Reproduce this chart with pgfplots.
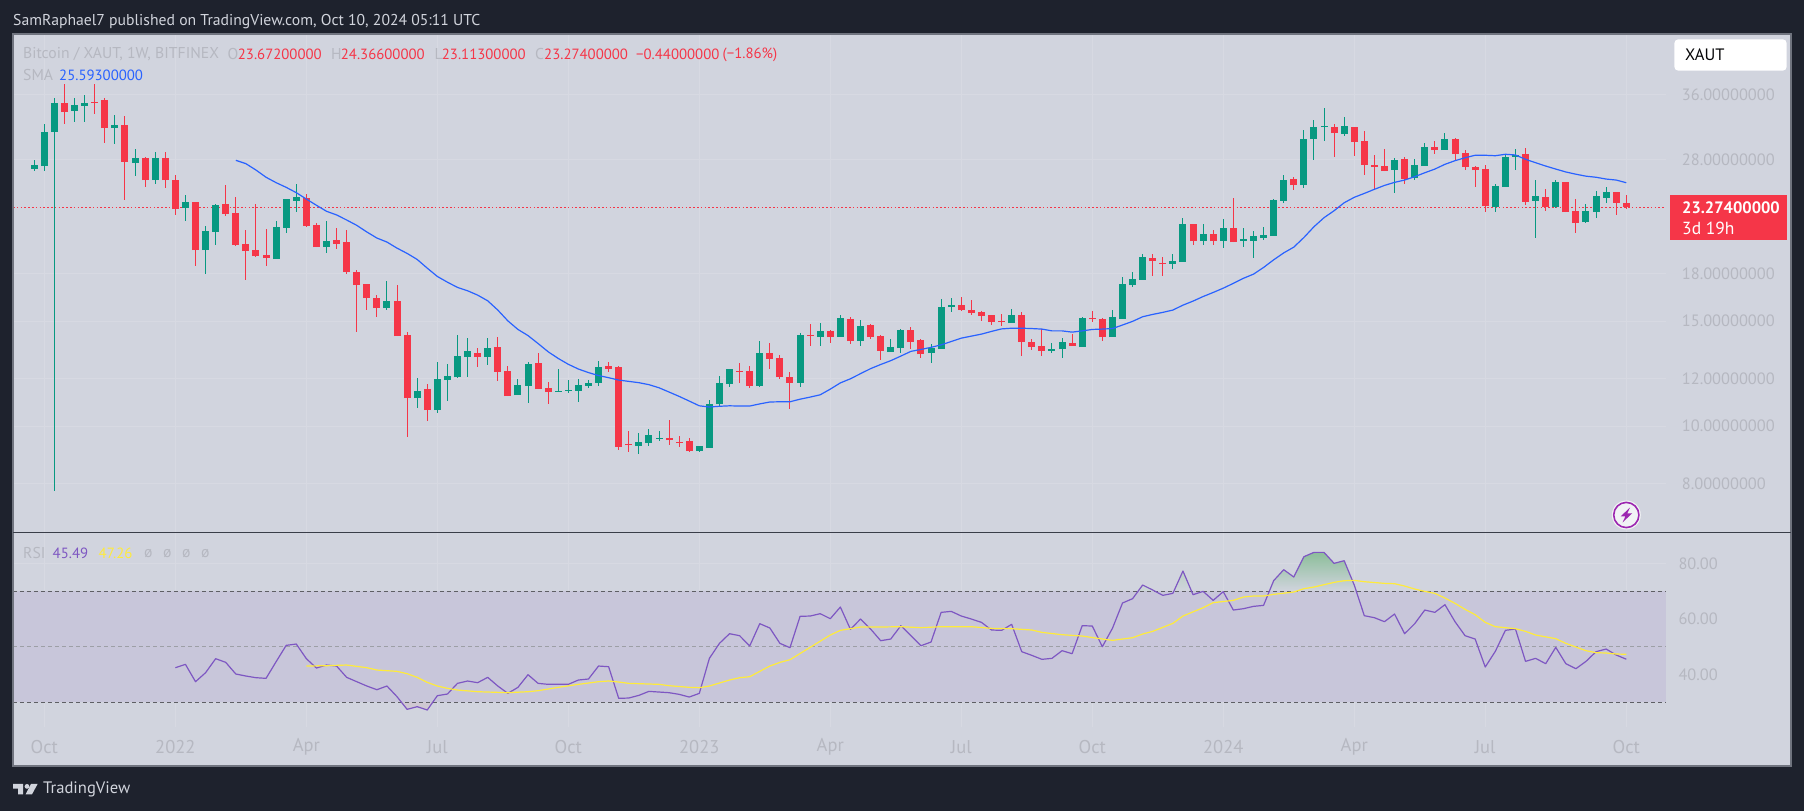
\documentclass[border=0pt]{standalone}
\usepackage{fontspec}
\setmainfont{PT Sans}
\usepackage{pgfplots}
\usepackage{pgfplotstable}
\pgfplotsset{compat=1.18}
\definecolor{bgdark}{HTML}{1E222D}
\definecolor{pane}{HTML}{D1D4DE}
\definecolor{band}{HTML}{C8C6DA}
\definecolor{gridc}{HTML}{D7D9E2}
\definecolor{borderc}{HTML}{70747F}
\definecolor{faint}{HTML}{B6B8C1}
\definecolor{upc}{HTML}{089981}
\definecolor{dnc}{HTML}{F53648}
\definecolor{smac}{HTML}{2962FF}
\definecolor{rsic}{HTML}{7E57C2}
\definecolor{yelc}{HTML}{FFEB3B}
\definecolor{headc}{HTML}{D1D4DC}
\definecolor{boltc}{HTML}{9C27B0}
\definecolor{obtop}{HTML}{8CBE9A}
\definecolor{obmid}{HTML}{BBD1C4}
\definecolor{oblow}{HTML}{CBD5D6}
\definecolor{ostint}{HTML}{CFC8D2}

\pgfplotstableread{
i o h l c
0 26.98 27.94 26.78 27.41
1 27.30 32.11 26.78 31.13
2 31.13 35.51 7.78 34.83
4 33.76 35.51 32.36 34.56
5 34.43 35.92 32.36 34.83
8 31.62 33.25 29.72 31.99
10 27.62 29.15 26.26 28.16
12 25.86 28.82 25.47 28.16
15 23.21 24.41 22.08 23.76
17 19.73 21.65 17.98 21.24
18 21.16 23.58 20.12 23.49
24 19.06 22.08 19.06 21.57
25 21.49 24.03 21.08 24.03
26 23.85 25.47 22.85 24.22
29 19.96 22.08 19.50 20.43
35 15.77 17.50 15.65 16.20
38 11.14 12.03 10.71 11.45
40 10.63 12.80 10.51 11.98
41 11.94 12.70 11.01 12.12
42 12.08 14.20 12.03 13.10
43 13.05 14.04 12.08 13.36
45 13.05 14.04 12.66 13.51
48 11.27 11.98 11.27 11.72
49 11.67 12.80 10.92 12.70
52 11.40 12.46 11.40 11.45
53 11.45 11.94 11.36 11.49
54 11.45 11.98 10.97 11.72
55 11.67 11.94 11.58 11.81
56 11.81 12.85 11.67 12.56
60 9.25 9.73 8.97 9.40
61 9.36 9.88 9.25 9.65
62 9.51 9.80 9.43 9.54
66 9.07 9.25 9.04 9.25
67 9.18 11.05 9.18 10.88
68 10.88 12.12 10.80 11.81
69 11.76 12.46 11.62 12.46
72 11.67 13.88 11.62 13.25
76 11.81 14.31 11.62 14.20
78 14.09 14.88 13.62 14.43
80 14.09 15.35 14.09 15.17
82 13.88 15.05 13.62 14.71
85 13.30 13.98 13.30 13.56
86 13.51 14.54 13.25 14.48
89 13.25 13.72 12.75 13.51
90 13.46 16.32 13.46 15.83
91 15.83 16.39 15.53 15.95
97 14.88 15.71 14.88 15.35
101 13.36 13.77 13.25 13.46
102 13.46 14.04 13.00 13.82
104 13.56 15.23 13.56 15.17
107 14.09 15.65 14.09 15.23
108 15.11 17.77 15.11 17.30
109 17.23 18.12 17.10 17.64
110 17.57 19.43 17.57 19.21
113 18.70 19.43 18.33 18.91
114 18.84 22.33 18.84 21.82
116 20.43 21.82 20.12 21.00
118 20.43 22.24 19.88 21.49
120 20.43 21.49 19.96 20.59
121 20.43 21.24 19.13 20.83
122 20.67 21.57 20.51 20.91
123 20.83 24.03 20.83 23.94
124 23.85 26.37 23.67 25.86
126 25.37 31.37 25.07 30.30
127 30.30 32.61 27.94 31.74
128 31.74 34.16 30.07 31.86
130 30.89 32.99 30.65 31.86
135 26.88 28.16 24.59 27.94
137 26.06 28.05 25.86 27.41
138 27.30 29.84 27.30 29.38
140 29.04 31.01 29.04 30.30
145 23.30 25.47 22.85 25.26
146 25.16 28.49 25.16 28.27
147 28.27 29.15 26.88 28.49
149 23.85 25.86 20.67 24.32
151 23.30 25.86 23.21 25.66
154 21.99 23.58 21.90 22.94
155 22.85 24.78 22.33 24.32
156 24.13 25.16 23.67 24.69
}\updata

\pgfplotstableread{
i o h l c
3 34.83 37.48 32.11 33.63
6 34.96 37.48 33.38 34.83
7 35.23 35.51 29.84 31.62
9 31.99 33.12 23.94 27.73
11 28.16 28.27 25.16 25.86
13 28.16 28.82 25.07 25.86
14 25.86 26.37 22.60 23.12
16 23.76 23.76 18.55 19.73
19 23.58 25.37 22.51 22.68
20 22.77 24.22 20.04 20.12
21 20.20 21.32 17.57 19.66
22 19.73 23.58 19.21 19.28
23 19.35 21.40 18.55 19.13
27 24.13 24.50 21.57 21.65
28 21.74 21.90 19.96 19.96
30 20.51 21.49 19.81 20.20
31 20.35 21.32 17.98 18.12
32 18.12 18.26 14.37 17.23
33 17.30 17.30 15.65 16.39
34 16.39 16.58 15.23 15.77
36 16.20 17.23 14.15 14.15
37 14.20 14.37 9.58 11.14
39 11.53 11.76 10.19 10.63
44 13.25 13.51 12.56 13.05
46 13.56 14.09 11.90 12.32
47 12.36 12.61 11.22 11.22
50 12.75 13.25 11.53 11.53
51 11.58 11.85 10.88 11.40
57 12.61 12.80 12.32 12.46
58 12.56 12.61 9.11 9.22
59 9.33 9.80 9.04 9.29
63 9.54 10.23 9.29 9.47
64 9.40 9.62 9.22 9.36
65 9.43 9.54 9.04 9.07
70 12.36 12.75 11.81 12.32
71 12.36 12.61 11.58 11.67
73 13.25 13.77 12.46 12.95
74 13.00 13.15 11.98 12.08
75 12.08 12.32 10.67 11.81
77 14.20 14.82 13.62 14.15
79 14.43 14.48 13.77 14.09
81 15.11 15.23 13.72 13.88
83 14.77 14.82 13.98 14.09
84 14.15 14.20 12.90 13.36
87 14.48 14.65 13.46 13.82
88 13.93 13.98 13.00 13.20
92 15.95 16.45 15.59 15.65
93 15.65 16.26 15.35 15.47
94 15.53 15.59 14.99 15.29
95 15.35 15.35 14.77 14.94
96 14.99 15.41 14.71 14.94
98 15.35 15.53 13.10 13.82
99 13.82 13.98 13.41 13.56
100 13.62 14.54 13.10 13.36
103 13.77 14.26 13.62 13.62
105 15.17 15.59 14.94 15.11
106 15.11 15.17 13.88 14.09
111 19.13 19.43 17.83 18.91
112 18.76 19.21 17.83 18.70
115 21.82 21.82 20.12 20.43
117 21.00 21.32 20.12 20.43
119 21.49 24.13 20.35 20.35
125 25.96 26.16 24.88 25.37
129 31.74 32.11 28.27 31.01
131 31.74 31.74 28.38 29.95
132 30.07 31.25 26.37 27.41
133 27.41 28.49 24.88 27.19
134 27.30 29.15 26.78 26.78
136 28.05 28.27 25.47 25.96
139 29.38 30.07 28.60 29.04
141 30.30 30.42 27.94 28.60
142 28.71 29.04 26.88 27.19
143 27.19 27.30 25.16 26.88
144 26.98 27.41 22.85 23.40
148 28.60 29.27 23.49 23.76
150 24.22 24.97 22.94 23.30
152 25.66 25.66 22.85 22.85
153 22.94 24.03 21.08 21.90
157 24.69 24.69 22.60 23.67
158 23.672 24.366 23.113 23.274
}\dndata

\pgfplotstableread{
i v
20 27.91
21 27.55
22 26.88
23 26.14
24 25.60
25 25.14
26 24.63
27 24.03
28 23.46
29 22.92
30 22.60
31 22.16
32 21.71
33 21.16
34 20.67
35 20.35
36 19.88
37 19.48
38 19.03
39 18.40
40 17.82
41 17.43
42 17.08
43 16.86
44 16.58
45 16.22
46 15.65
47 15.01
48 14.52
49 14.18
50 13.75
51 13.32
52 12.98
53 12.69
54 12.46
55 12.29
56 12.15
57 12.05
58 11.94
59 11.88
60 11.82
61 11.73
62 11.59
63 11.40
64 11.21
65 11.01
66 10.81
67 10.76
68 10.79
69 10.81
70 10.80
71 10.80
72 10.89
73 10.97
74 10.98
75 10.98
76 11.09
77 11.18
78 11.28
79 11.53
80 11.81
81 12.00
82 12.24
83 12.48
84 12.68
85 12.87
86 13.10
87 13.34
88 13.44
89 13.55
90 13.68
91 13.86
92 14.04
93 14.15
94 14.26
95 14.41
96 14.55
97 14.59
98 14.59
99 14.57
100 14.54
101 14.44
102 14.44
103 14.37
104 14.44
105 14.52
106 14.54
107 14.57
108 14.77
109 14.98
110 15.25
111 15.39
112 15.51
113 15.65
114 15.95
115 16.20
116 16.49
117 16.75
118 17.03
119 17.35
120 17.69
121 17.98
122 18.45
123 19.00
124 19.52
125 19.96
126 20.71
127 21.59
128 22.36
129 22.97
130 23.69
131 24.19
132 24.56
133 24.95
134 25.33
135 25.63
136 25.86
137 26.20
138 26.60
139 26.98
140 27.48
141 27.87
142 28.19
143 28.46
144 28.46
145 28.41
146 28.57
147 28.49
148 28.02
149 27.65
150 27.30
151 26.98
152 26.68
153 26.45
154 26.25
155 26.14
156 25.96
157 25.86
158 25.593
}\smadata

\pgfplotstableread{
i r
14 42.43
15 43.63
16 37.39
17 40.63
18 45.68
19 44.35
20 40.15
21 39.43
22 38.83
23 38.59
24 44.59
25 50.48
26 50.96
27 45.68
28 42.31
29 43.39
30 43.03
31 38.95
32 37.39
33 35.83
34 34.50
35 35.83
36 31.98
37 27.42
38 28.38
39 27.18
40 32.34
41 32.94
42 36.79
43 37.63
44 37.03
45 38.95
46 35.83
47 33.18
48 35.35
49 39.91
50 36.79
51 36.43
52 36.43
53 36.43
54 37.99
55 38.35
56 43.03
57 42.79
58 31.38
59 31.50
60 32.46
61 33.90
62 33.66
63 33.42
64 32.82
65 31.86
66 33.18
67 45.80
68 51.20
69 54.68
70 53.96
71 50.24
72 58.29
73 56.73
74 51.20
75 49.64
76 60.93
77 61.05
78 61.89
79 60.09
80 64.29
81 56.25
82 59.97
83 56.37
84 52.16
85 52.76
86 57.57
87 53.96
88 50.36
89 51.68
90 62.37
91 62.73
92 61.05
93 59.97
94 58.77
95 56.01
96 55.89
97 58.05
98 48.20
99 46.88
100 45.44
101 45.80
102 48.56
103 47.48
104 57.57
105 57.45
106 50.00
107 56.61
108 65.74
109 67.30
110 72.22
111 70.42
112 68.50
113 69.22
114 77.27
115 68.74
116 69.94
117 66.70
118 69.82
119 63.21
120 63.69
121 64.53
122 64.89
123 73.78
124 77.75
125 75.11
126 82.43
127 83.99
128 83.99
129 80.03
130 80.99
131 72.22
132 61.17
133 60.45
134 59.01
135 61.77
136 54.68
137 58.29
138 63.21
139 62.37
140 65.14
141 59.01
142 53.96
143 52.76
144 42.67
145 48.32
146 55.89
147 56.37
148 44.71
149 45.80
150 43.87
151 49.76
152 43.87
153 42.07
154 44.71
155 48.20
156 49.16
157 47.00
158 45.49
}\rsidata

\pgfplotstableread{
i m
27 43.03
29 43.15
31 43.39
33 42.43
34 41.59
36 41.11
37 40.27
38 38.95
39 37.15
40 35.83
41 34.99
42 34.38
44 33.78
46 33.54
47 33.42
49 33.78
50 34.14
52 35.35
54 36.43
56 37.39
57 37.63
58 37.27
59 36.79
61 36.55
62 36.43
63 35.95
65 35.35
66 35.23
67 35.83
69 37.99
70 38.83
71 39.19
73 43.03
74 44.35
75 45.32
77 49.76
79 54.20
80 55.89
82 57.09
84 57.09
86 57.21
88 56.85
90 57.21
93 57.21
95 56.61
97 56.49
99 56.01
100 55.17
102 54.32
104 53.84
106 52.76
107 52.28
109 53.24
110 54.56
111 55.53
113 58.41
114 61.05
116 64.05
117 65.86
119 66.70
120 67.90
121 68.26
122 68.26
123 68.86
125 69.70
126 70.90
127 71.50
129 73.18
130 73.78
131 73.90
132 73.42
134 72.82
135 72.70
136 71.86
137 70.78
138 69.94
139 69.22
140 67.54
141 65.62
142 63.45
143 61.53
144 58.77
145 57.21
147 56.49
148 55.53
149 54.20
151 52.88
152 51.20
153 49.88
154 48.56
155 47.84
156 47.72
157 47.36
158 47.26
}\rsimadata

\pgfplotsset{
  tvaxis/.style={
    scale only axis, width=1653pt,
    xmin=-2.114, xmax=161.94,
    axis line style={draw=none},
    major tick length=0pt, minor tick length=0pt,
    xtick={1,14,27,40,53,66,79,92,105,118,131,144,158},
    xmajorgrids, ymajorgrids,
    grid style={gridc,line width=0.8pt},
    ytick pos=right, yticklabel pos=right,
    y tick label style={anchor=west,inner sep=0pt,text=faint,font=\fontsize{16.4}{19}\selectfont},
    x tick label style={anchor=center,inner sep=0pt,text=faint,font=\fontsize{18.5}{21}\selectfont},
    /pgf/number format/assume math mode=true,
  },
}

\begin{document}
\begin{tikzpicture}
\fill[bgdark] (0,0) rectangle (1804pt,811pt);
\useasboundingbox (0,0) rectangle (1804pt,811pt);
\fill[pane] (13pt,45pt) rectangle (1791pt,777pt);

% ---------- price pane ----------
\begin{axis}[tvaxis,
  at={(13pt,279pt)}, anchor=south west, height=498pt,
  ymode=log, ymin=6.639, ymax=45.47,
  ytick={8,10,12,15,18,28,36},
  yticklabels={8.00000000,10.00000000,12.00000000,15.00000000,18.00000000,28.00000000,36.00000000},
  log ticks with fixed point,
  xticklabels={},
  y tick label style={xshift=15.7pt},
]
\addplot[dnc,line width=1pt,dash pattern=on 1.6pt off 2.2pt] coordinates {(-2.114,23.274) (161.94,23.274)};
% wicks
\addplot[draw=none,mark=none,forget plot,
  error bars/.cd,y dir=both,y explicit,error mark=none,
  error bar style={upc,line width=1pt}]
  table[x=i,y=c,y error plus expr=\thisrow{h}-\thisrow{c},y error minus expr=\thisrow{c}-\thisrow{l}] {\updata};
\addplot[draw=none,mark=none,forget plot,
  error bars/.cd,y dir=both,y explicit,error mark=none,
  error bar style={dnc,line width=1pt}]
  table[x=i,y=c,y error plus expr=\thisrow{h}-\thisrow{c},y error minus expr=\thisrow{c}-\thisrow{l}] {\dndata};
% bodies
\addplot[draw=none,mark=none,forget plot,
  error bars/.cd,y dir=plus,y explicit,error mark=none,
  error bar style={upc,line width=7pt}]
  table[x=i,y=o,y error plus expr=\thisrow{c}-\thisrow{o},y error minus expr=0] {\updata};
\addplot[draw=none,mark=none,forget plot,
  error bars/.cd,y dir=plus,y explicit,error mark=none,
  error bar style={dnc,line width=7pt}]
  table[x=i,y=c,y error plus expr=\thisrow{o}-\thisrow{c},y error minus expr=0] {\dndata};
% SMA
\addplot[smac,line width=1.2pt,line join=round] table[x=i,y=v] {\smadata};
\end{axis}

% ---------- RSI pane ----------
\begin{axis}[tvaxis,
  at={(13pt,84pt)}, anchor=south west, height=194pt,
  ymin=21.06, ymax=90.97,
  ytick={40,60,80},
  yticklabels={40.00,60.00,80.00},
  xticklabels={Oct,2022,Apr,Jul,Oct,2023,Apr,Jul,Oct,2024,Apr,Jul,Oct},
  y tick label style={xshift=12.3pt},
  x tick label style={yshift=-20pt},
]
\addplot[draw=none,fill=band] coordinates {(-2.114,30) (-2.114,70) (161.94,70) (161.94,30)} -- cycle;
\addplot[draw=none,fill=oblow] coordinates {(109.55,70) (110,72.22) (111,70.42) (111.22,70)} -- cycle;
\addplot[draw=none,top color=obmid,bottom color=pane] coordinates {(113.1,70) (114,77.27) (114.85,70)} -- cycle;
\addplot[draw=none,fill=ostint] coordinates {(36.43,30) (37,27.42) (38,28.38) (39,27.18) (39.55,30)} -- cycle;
\addplot[draw=none,top color=obtop,bottom color=pane] coordinates {(122.575,70) (123,73.78) (124,77.75) (125,75.11) (126,82.43) (127,83.99) (128,83.99) (129,80.03) (130,80.99) (131,72.22) (131.2,70)} -- cycle;
\addplot[color=black!55!pane,line width=1pt,dash pattern=on 4pt off 3pt] coordinates {(-2.114,70) (161.94,70)};
\addplot[color=black!25!pane,line width=1pt,dash pattern=on 4pt off 3pt] coordinates {(-2.114,50) (161.94,50)};
\addplot[color=black!55!pane,line width=1pt,dash pattern=on 4pt off 3pt] coordinates {(-2.114,30) (161.94,30)};
\addplot[rsic,line width=1.2pt,line join=round] table[x=i,y=r] {\rsidata};
\addplot[yelc,line width=1.2pt,line join=round] table[x=i,y=m] {\rsimadata};
\end{axis}

% ---------- furniture, in reference pixel coordinates ----------
\begin{scope}[yshift=811pt,x=1pt,y=-1pt]
\draw[borderc,line width=1.5pt] (13,34) rectangle (1791,766);
\draw[bgdark!85!pane,line width=1.6pt] (13,532.5) -- (1791,532.5);

\tikzset{t/.style={anchor=west,inner sep=0pt,font=\fontsize{15.7}{18}\selectfont},
         d/.style={anchor=west,inner sep=0pt,font=\fontsize{14.8}{18}\selectfont}}
\node[t,text=headc] at (13,21.5) {SamRaphael7 published on TradingView.com, Oct 10, 2024 05:11 UTC};
\node[t,text=faint] at (23,54.5) {Bitcoin / XAUT, 1W, BITFINEX};
\node[t,text=faint] at (227.5,54.5) {O};
\node[d,text=dnc] at (237.7,54.5) {23.67200000};
\node[t,text=faint] at (331,54.5) {H};
\node[d,text=dnc] at (340.7,54.5) {24.36600000};
\node[t,text=faint] at (434.3,54.5) {L};
\node[d,text=dnc] at (441.7,54.5) {23.11300000};
\node[t,text=faint] at (535,54.5) {C};
\node[d,text=dnc] at (544,54.5) {23.27400000};
\node[d,text=dnc] at (636,54.5) {−0.44000000};
\node[d,text=dnc] at (722.5,54.5) {(−1.86\%)};
\node[t,text=faint] at (23,75.5) {SMA};
\node[d,text=smac] at (59,75.5) {25.59300000};

\node[t,text=faint] at (23,553.5) {RSI};
\node[d,text=rsic] at (52.5,553.5) {45.49};
\node[d,text=yelc] at (98.5,553.5) {47.26};
\foreach \px in {144,163,182,201} \node[t,text=faint] at (\px,553.5) {ø};

% XAUT button
\fill[white,rounded corners=4pt] (1674.3,39.3) rectangle (1786.7,70.7);
\node[t,text=black!85!bgdark,font=\fontsize{16.5}{19}\selectfont] at (1685,54.7) {XAUT};

% last price label
\fill[dnc] (1670,195) rectangle (1787,240);
\node[t,text=white,font=\bfseries\fontsize{16.5}{19}\selectfont] at (1682,207.7) {23.27400000};
\node[t,text=white,font=\fontsize{17.5}{19}\selectfont] at (1682,228.3) {3d 19h};

% bolt icon
\fill[white!70!pane] (1626.3,515) circle (14.5);
\draw[boltc,line width=1.6pt] (1626.3,515) circle (12.6);
\fill[boltc] (1630,507.5) -- (1620.5,516.5) -- (1625.3,516.5) -- (1622.5,522.5) -- (1632,513.5) -- (1627.2,513.5) -- cycle;

% footer logo and word
\fill[headc] (13,784) -- (23,784) -- (23,794.3) -- (18,794.3) -- (18,788.6) -- (13,788.6) -- cycle;
\fill[headc] (27,786.4) circle (2.4);
\fill[headc] (31,784) -- (37.6,784) -- (32,794.3) -- (25.6,794.3) -- cycle;
\node[t,text=headc,font=\fontsize{16.6}{19}\selectfont] at (43,789) {TradingView};
\end{scope}
\end{tikzpicture}
\end{document}
